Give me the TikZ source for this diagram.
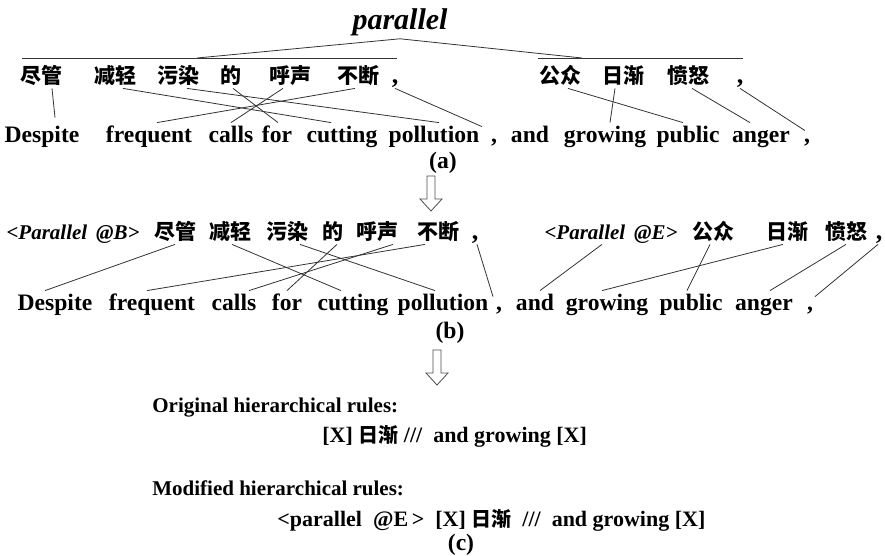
\documentclass[tikz,border=0pt]{standalone}
\usepackage{fontspec}
\setmainfont{Liberation Serif}
\newfontfamily\cjkfont{Noto Sans CJK SC}
\usetikzlibrary{calc}
\newcommand{\hollowarrow}[1]{%
  \draw[line width=0.4pt,black!70,shift={#1}] (-4,0) -- (4,0) -- (4,23) -- (11,23) -- (0,35) -- (-11,23) -- (-4,23) -- cycle;}

\begin{document}
\begin{tikzpicture}[x=0.5pt,y=-0.5pt,
  zh/.style={font=\fontsize{10.5}{12}\cjkfont\bfseries,anchor=base,inner sep=1pt,text height=8pt,text depth=1pt},
  zhcomma/.style={zh,font=\fontsize{13}{14}\selectfont\bfseries},
  en/.style={font=\fontsize{11.8}{14}\selectfont\bfseries,anchor=base,inner sep=1pt,text height=9pt,text depth=2.5pt},
  tagbox/.style={zh,font=\fontsize{10.5}{12}\selectfont\bfseries\itshape},
  ruletext/.style={font=\fontsize{11}{13}\selectfont\bfseries,anchor=base west,inner sep=0pt},
  link/.style={line width=0.4pt,black!80}]
\useasboundingbox (0,0) rectangle (885,556);

% (a) tree over the source side
\node[font=\fontsize{15}{17}\selectfont\bfseries\itshape,anchor=base,inner sep=1pt] (par) at (400,30) {parallel};
\coordinate (lbarw) at (22,58);
\coordinate (lbare) at (397,58);
\coordinate (rbarw) at (538,58);
\coordinate (rbare) at (743,58);
\coordinate (lleg) at (197,58);
\coordinate (rleg) at (582,58);
\draw[link] (lbarw) -- (lbare);
\draw[link] (rbarw) -- (rbare);
\draw[link] (lleg) -- (par.south) -- (rleg);

% (a) source words
\node[zh] (za1) at (41,84) {尽管};
\node[zh] (za2) at (115,84) {减轻};
\node[zh] (za3) at (178,84) {污染};
\node[zh] (za4) at (231,84) {的};
\node[zh] (za5) at (290,84) {呼声};
\node[zh] (za6) at (358,84) {不断};
\node[zhcomma] (za7) at (395,84) {,};
\node[zh] (za8) at (560,84) {公众};
\node[zh] (za9) at (623,84) {日渐};
\node[zh] (za10) at (688,84) {愤怒};
\node[zhcomma] (za11) at (740,84) {,};

% (a) target words
\node[en] (ea1) at (42,143) {Despite};
\node[en] (ea2) at (149,143) {frequent};
\node[en] (ea3) at (231,143) {calls};
\node[en] (ea4) at (277,143) {for};
\node[en] (ea5) at (342,143) {cutting};
\node[en] (ea6) at (434,143) {pollution};
\node[en] (ea7) at (494,143) {,};
\node[en] (ea8) at (530,143) {and};
\node[en] (ea9) at (605,143) {growing};
\node[en] (ea10) at (688,143) {public};
\node[en] (ea11) at (761,143) {anger};
\node[en] (ea12) at (807,143) {,};

% (a) alignment
\draw[link] ($(za1.south)+(11,0)$) -- ($(ea1.north)+(13,-5)$);
\draw[link] ($(za2.south)+(8,0)$) -- ($(ea5.north)+(-11,0)$);
\draw[link] ($(za3.south)+(9,0)$) -- ($(ea6.north)+(5,0)$);
\draw[link] ($(za4.south)+(2,0)$) -- ($(ea4.north)+(1,0)$);
\draw[link] ($(za5.south)+(-7,0)$) -- (ea3.north);
\draw[link] ($(za6.south)+(-3,0)$) -- ($(ea2.north)+(8,0)$);
\draw[link] (za7.south) -- ($(ea7.north)+(-12,4)$);
\draw[link] ($(za8.south)+(8,0)$) -- ($(ea10.north)+(-5,0)$);
\draw[link] ($(za9.south)+(-8,0)$) -- ($(ea9.north)+(5,0)$);
\draw[link] ($(za10.south)+(4,0)$) -- ($(ea11.north)+(-11,0)$);
\draw[link] (za11.south) -- ($(ea12.north)+(-2,8)$);

\node[en] (lbla) at (443,169) {(a)};
\hollowarrow{(431,176)}

% (b) source words with tags
\node[tagbox] (zb0) at (73,240) {<Parallel\ \,@B>};
\node[zh] (zb1) at (175,240) {尽管};
\node[zh] (zb2) at (230,240) {减轻};
\node[zh] (zb3) at (287,240) {污染};
\node[zh] (zb4) at (333,240) {的};
\node[zh] (zb5) at (377,240) {呼声};
\node[zh] (zb6) at (438,240) {不断};
\node[zhcomma] (zb7) at (475,240) {,};
\node[tagbox] (zb8) at (611,240) {<Parallel\ \,@E>};
\node[zh] (zb9) at (713,240) {公众};
\node[zh] (zb10) at (787,240) {日渐};
\node[zh] (zb11) at (846,240) {愤怒};
\node[zhcomma] (zb12) at (879,240) {,};

% (b) target words
\node[en] (eb1) at (55,311) {Despite};
\node[en] (eb2) at (152,311) {frequent};
\node[en] (eb3) at (234,311) {calls};
\node[en] (eb4) at (287,311) {for};
\node[en] (eb5) at (353,311) {cutting};
\node[en] (eb6) at (443,311) {pollution};
\node[en] (eb7) at (499,311) {,};
\node[en] (eb8) at (535,311) {and};
\node[en] (eb9) at (607,311) {growing};
\node[en] (eb10) at (691,311) {public};
\node[en] (eb11) at (764,311) {anger};
\node[en] (eb12) at (810,311) {,};

% (b) alignment
\draw[link] (zb1.south) -- ($(eb1.north)+(-10,0)$);
\draw[link] ($(zb2.south)+(2,0)$) -- ($(eb5.north)+(-12,0)$);
\draw[link] ($(zb3.south)+(13,0)$) -- ($(eb6.north)+(-8,0)$);
\draw[link] ($(zb4.south)+(4,0)$) -- (eb4.north);
\draw[link] ($(zb5.south)+(16,0)$) -- ($(eb3.north)+(15,0)$);
\draw[link] ($(zb6.south)+(-13,0)$) -- ($(eb2.north)+(-5,0)$);
\draw[link] ($(zb7.south)+(2,0)$) -- ($(eb7.north)+(-6,6)$);
\draw[link] ($(zb8.south)+(-9,0)$) -- ($(eb8.north)+(5,0)$);
\draw[link] ($(zb9.south)+(-3,0)$) -- ($(eb10.north)+(-4,0)$);
\draw[link] ($(zb10.south)+(-4,0)$) -- ($(eb9.north)+(-5,0)$);
\draw[link] (zb11.south) -- ($(eb11.north)+(6,0)$);
\draw[link] ($(zb12.south)+(-1,0)$) -- ($(eb12.north)+(5,6)$);

\node[en] (lblb) at (450,338) {(b)};
\hollowarrow{(437,350)}

% (c) rules
\node[ruletext,font=\fontsize{10.5}{13}\selectfont\bfseries] (orig) at (152,412) {Original hierarchical rules:};
\node[ruletext] (origr) at (322,443) {[X] {\fontsize{10}{12}\cjkfont\bfseries 日渐} /// \ and growing [X]};
\node[ruletext,font=\fontsize{10.5}{13}\selectfont\bfseries] (modi) at (152,495) {Modified hierarchical rules:};
\node[ruletext] (modr) at (277,526) {<parallel\ \ @E\,>\ \ [X] {\fontsize{10}{12}\cjkfont\bfseries 日渐}\ \ ///\ \ and growing [X]};
\node[en] (lblc) at (461,550) {(c)};
\end{tikzpicture}
\end{document}
